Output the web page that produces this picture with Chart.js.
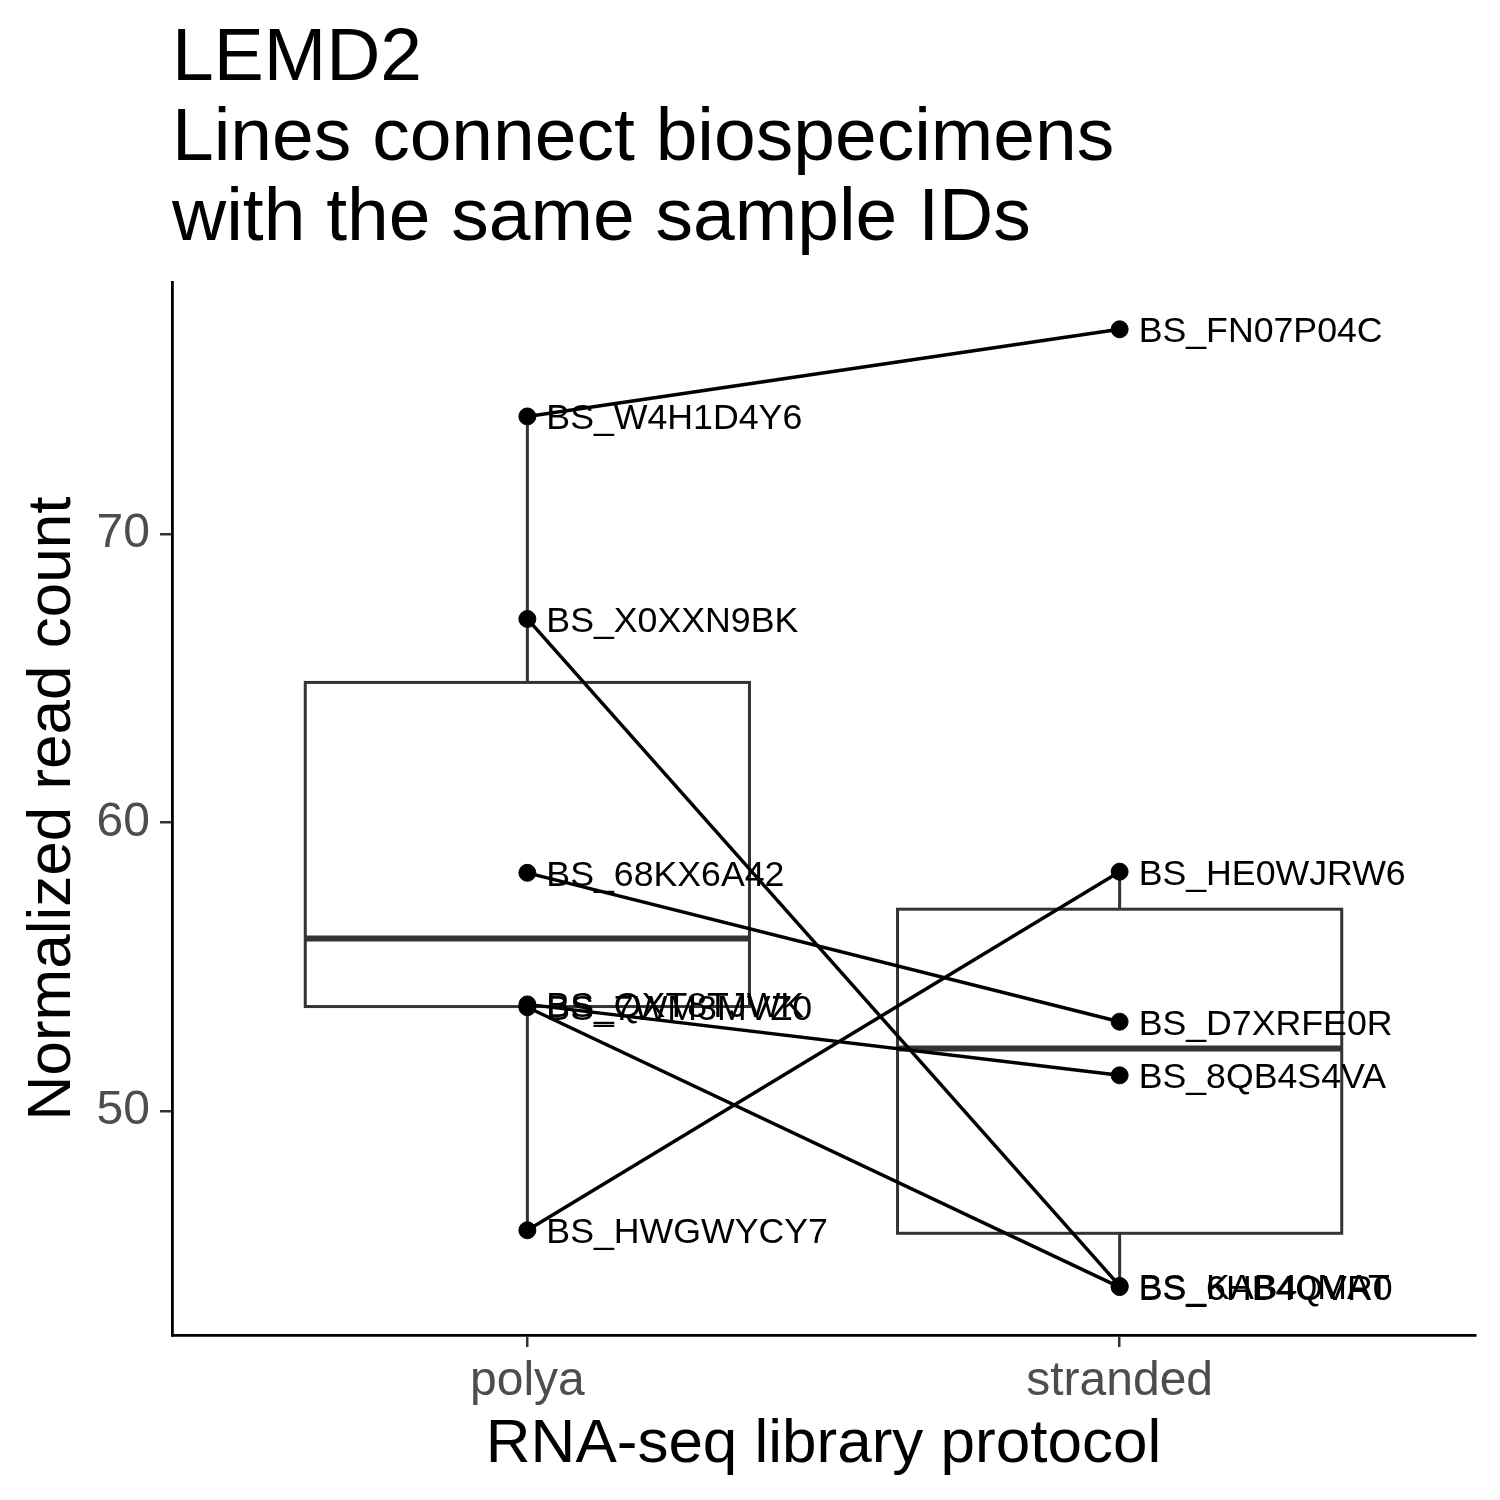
<!DOCTYPE html>
<html><head><meta charset="utf-8">
<script src="https://cdn.jsdelivr.net/npm/chart.js@4/dist/chart.umd.min.js"></script>
<style>html,body{margin:0;padding:0;background:#fff}</style>
</head><body>
<canvas id="c" width="1500" height="1500"></canvas>
<script>
const titleLines = ['LEMD2', 'Lines connect biospecimens', 'with the same sample IDs'];
const xAxisTitle = 'RNA-seq library protocol';
const yAxisTitle = 'Normalized read count';
const protocols = ['polya', 'stranded'];
// pairs: index i of polya connects to index i of stranded (same sample ID)
const polyaIds = ['BS_W4H1D4Y6', 'BS_X0XXN9BK', 'BS_68KX6A42', 'BS_QXT8TJWK', 'BS_7WM3MVZ0', 'BS_HWGWYCY7'];
const polyaValues = [74.08, 67.06, 58.26, 53.70, 53.60, 45.87];
const strandedIds = ['BS_FN07P04C', 'BS_KAB40MAT', 'BS_D7XRFE0R', 'BS_8QB4S4VA', 'BS_6HB4QVR0', 'BS_HE0WJRW6'];
const strandedValues = [77.10, 43.94, 53.10, 51.24, 43.90, 58.30];
const yTicks = [50, 60, 70];
const yMin = 42.24, yMax = 78.74;

const FONT = '"Liberation Sans", Arial, Helvetica, sans-serif';

function quantile(sorted, p) {
  const h = (sorted.length - 1) * p;
  const lo = Math.floor(h), hi = Math.ceil(h);
  return sorted[lo] + (sorted[hi] - sorted[lo]) * (h - lo);
}
function boxStats(vals) {
  const s = vals.slice().sort((a, b) => a - b);
  const q1 = quantile(s, 0.25), med = quantile(s, 0.5), q3 = quantile(s, 0.75);
  const iqr = q3 - q1;
  const lo = Math.min(...s.filter(v => v >= q1 - 1.5 * iqr));
  const hi = Math.max(...s.filter(v => v <= q3 + 1.5 * iqr));
  return { q1, med, q3, lo, hi };
}

const groups = [polyaValues, strandedValues];
const groupIds = [polyaIds, strandedIds];

const boxPlugin = {
  id: 'boxes',
  beforeDatasetsDraw(chart) {
    const ctx = chart.ctx, xs = chart.scales.x, ys = chart.scales.y;
    ctx.save();
    ctx.strokeStyle = '#333333';
    groups.forEach((vals, i) => {
      const st = boxStats(vals);
      const xc = xs.getPixelForValue(i + 1);
      const xl = xs.getPixelForValue(i + 1 - 0.375), xr = xs.getPixelForValue(i + 1 + 0.375);
      const p = v => ys.getPixelForValue(v);
      ctx.lineWidth = 3;
      ctx.beginPath();
      ctx.moveTo(xc, p(st.q3)); ctx.lineTo(xc, p(st.hi));
      ctx.moveTo(xc, p(st.q1)); ctx.lineTo(xc, p(st.lo));
      ctx.stroke();
      ctx.strokeRect(xl, p(st.q3), xr - xl, p(st.q1) - p(st.q3));
      ctx.lineWidth = 6;
      ctx.beginPath();
      ctx.moveTo(xl, p(st.med)); ctx.lineTo(xr, p(st.med));
      ctx.stroke();
    });
    ctx.restore();
  },
  afterDatasetsDraw(chart) {
    const ctx = chart.ctx, xs = chart.scales.x, ys = chart.scales.y;
    ctx.save();
    ctx.fillStyle = '#000';
    ctx.font = '35.7px ' + FONT;
    ctx.textAlign = 'left';
    ctx.textBaseline = 'middle';
    groups.forEach((vals, i) => {
      vals.forEach((v, j) => {
        ctx.fillText(groupIds[i][j], xs.getPixelForValue(i + 1) + 19, ys.getPixelForValue(v) + 3);
      });
    });
    ctx.restore();
  },
  afterDraw(chart) {
    const ctx = chart.ctx, ca = chart.chartArea;
    ctx.save();
    ctx.fillStyle = '#000';
    ctx.font = '75px ' + FONT;
    ctx.textAlign = 'left';
    ctx.textBaseline = 'alphabetic';
    titleLines.forEach((t, i) => ctx.fillText(t, ca.left, 80 + i * 80));
    ctx.font = '62px ' + FONT;
    ctx.textAlign = 'center';
    ctx.fillText(xAxisTitle, (ca.left + ca.right) / 2, 1462);
    ctx.translate(70, (ca.top + ca.bottom) / 2);
    ctx.rotate(-Math.PI / 2);
    ctx.fillText(yAxisTitle, 0, 0);
    ctx.restore();
  }
};

const datasets = [];
polyaValues.forEach((v, i) => {
  datasets.push({
    type: 'line',
    data: [{ x: 1, y: v }, { x: 2, y: strandedValues[i] }],
    borderColor: '#000', borderWidth: 3.5, pointRadius: 0, fill: false, tension: 0
  });
});
datasets.push({
  type: 'scatter',
  data: polyaValues.map(v => ({ x: 1, y: v })).concat(strandedValues.map(v => ({ x: 2, y: v }))),
  backgroundColor: '#000', borderColor: '#000', pointRadius: 8.5, pointHoverRadius: 8.5
});

new Chart(document.getElementById('c'), {
  type: 'scatter',
  data: { datasets },
  plugins: [boxPlugin],
  options: {
    responsive: false, animation: false, devicePixelRatio: 1,
    layout: { padding: { top: 282, right: 25, left: 0, bottom: 0 } },
    plugins: { legend: { display: false }, tooltip: { enabled: false }, title: { display: false } },
    scales: {
      x: {
        type: 'linear', min: 0.4, max: 2.6,
        afterBuildTicks: s => { s.ticks = [{ value: 1 }, { value: 2 }]; },
        afterFit: s => { s.height = 165; },
        ticks: { callback: v => protocols[v - 1], font: { size: 48, family: FONT }, color: '#4d4d4d', padding: 6, maxRotation: 0 },
        grid: { drawOnChartArea: false, drawTicks: true, tickLength: 12, color: '#333333', lineWidth: 2.5 },
        border: { display: true, color: '#000', width: 2.8 }
      },
      y: {
        type: 'linear', min: yMin, max: yMax,
        afterBuildTicks: s => { s.ticks = yTicks.map(v => ({ value: v })); },
        afterFit: s => { s.width = 172; },
        ticks: { font: { size: 48, family: FONT }, color: '#4d4d4d', padding: 10 },
        grid: { drawOnChartArea: false, drawTicks: true, tickLength: 12, color: '#333333', lineWidth: 2.5 },
        border: { display: true, color: '#000', width: 2.8 }
      }
    }
  }
});
</script>
</body></html>
